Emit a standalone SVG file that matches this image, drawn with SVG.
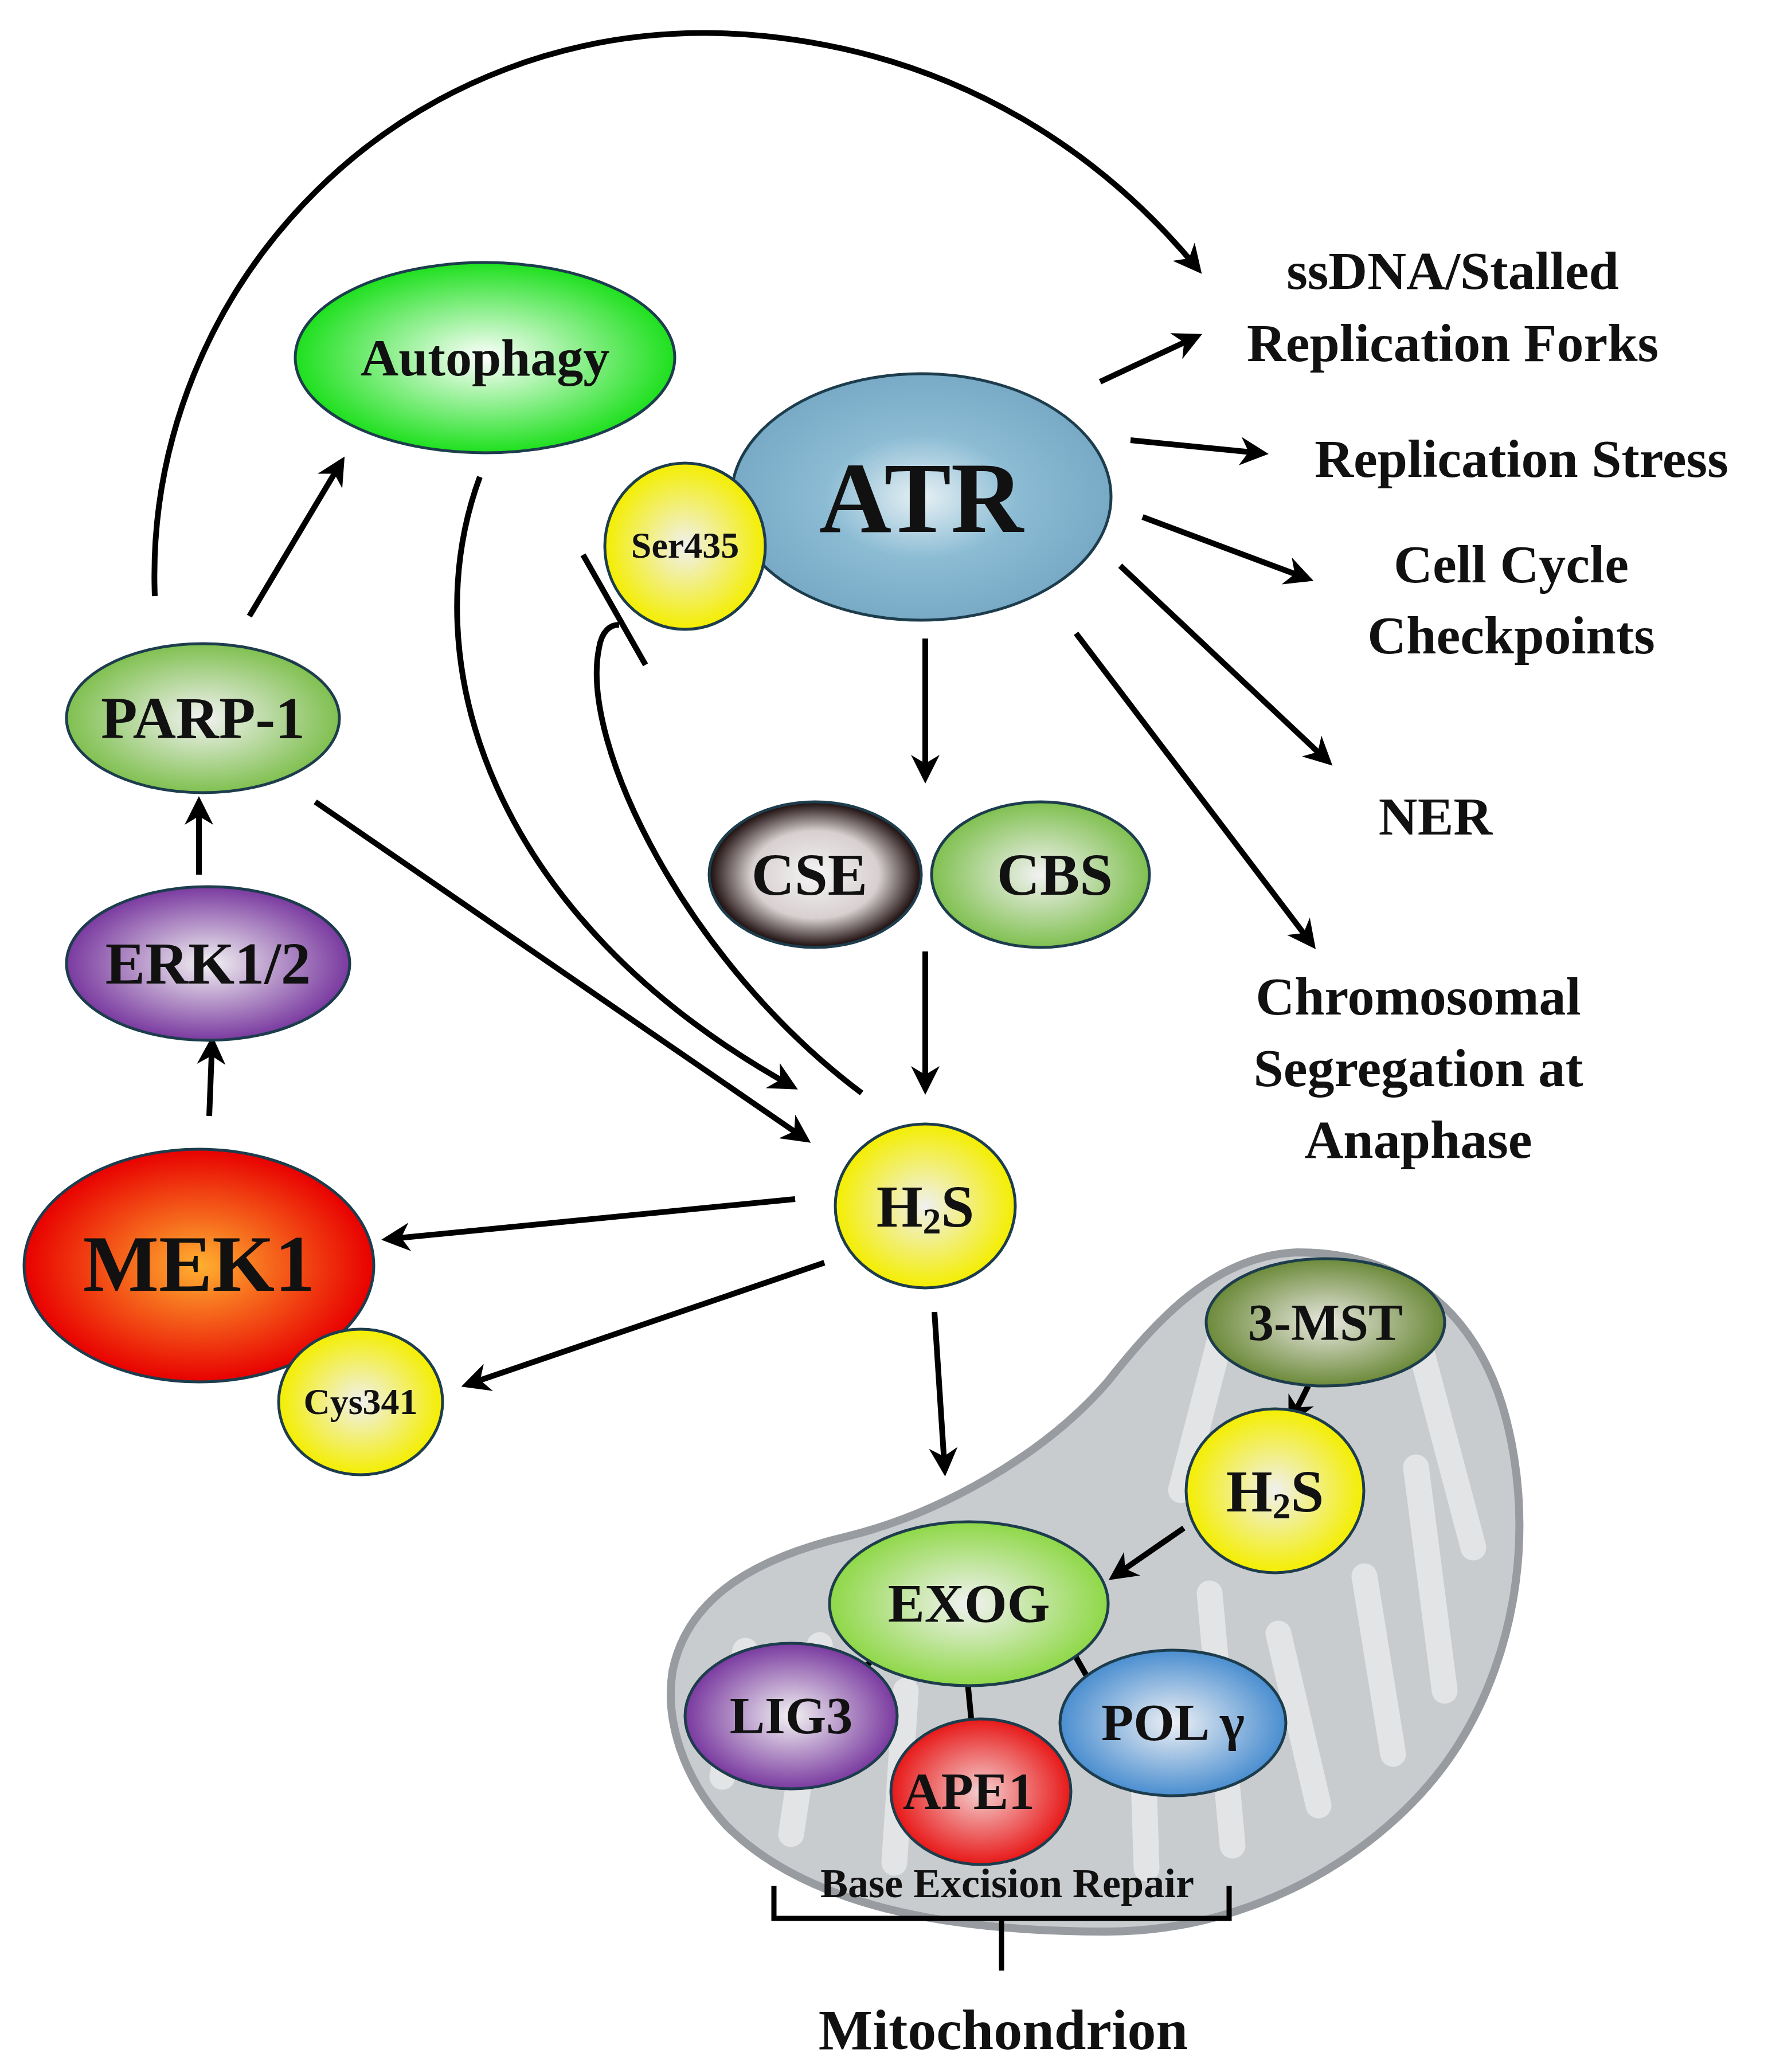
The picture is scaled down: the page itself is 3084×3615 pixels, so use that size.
<svg xmlns="http://www.w3.org/2000/svg" width="3084" height="3615" viewBox="0 0 3084 3615">
<style>
.t{font-family:"Liberation Serif","Tinos","Times New Roman","DejaVu Serif",serif;font-weight:bold;fill:#111;text-anchor:middle}
.n{stroke:#1d3d4d;stroke-width:5}
.c{fill:none;stroke:#000;stroke-width:10}
.a{marker-end:url(#ar)}
</style>
<defs>
<marker id="ar" viewBox="0 0 10 10" refX="8" refY="5" markerWidth="5" markerHeight="5" orient="auto" markerUnits="strokeWidth"><path d="M0,0 L10,5 L0,10 L3,5 z" fill="#000"/></marker>
<radialGradient id="gAut"><stop offset="0" stop-color="#fff"/><stop offset="1" stop-color="#1ee01e"/></radialGradient>
<radialGradient id="gAtr"><stop offset="0" stop-color="#e6f0f4"/><stop offset="0.5" stop-color="#8cbcd4"/><stop offset="1" stop-color="#78aac6"/></radialGradient>
<radialGradient id="gY"><stop offset="0" stop-color="#f0f0f0"/><stop offset="1" stop-color="#f4ee00"/></radialGradient>
<radialGradient id="gG"><stop offset="0" stop-color="#f2f2f2"/><stop offset="1" stop-color="#80c050"/></radialGradient>
<radialGradient id="gE"><stop offset="0" stop-color="#f2f2f2"/><stop offset="1" stop-color="#8fd848"/></radialGradient>
<radialGradient id="gP"><stop offset="0" stop-color="#f2f2f2"/><stop offset="1" stop-color="#7a3aa0"/></radialGradient>
<radialGradient id="gM"><stop offset="0" stop-color="#ffb030"/><stop offset="1" stop-color="#e80000"/></radialGradient>
<radialGradient id="gK"><stop offset="0" stop-color="#f4f4f4"/><stop offset="0.6" stop-color="#d8d0d0"/><stop offset="1" stop-color="#1a0a0a"/></radialGradient>
<radialGradient id="gR"><stop offset="0" stop-color="#f4d0d0"/><stop offset="1" stop-color="#e81818"/></radialGradient>
<radialGradient id="gB"><stop offset="0" stop-color="#eef0f4"/><stop offset="1" stop-color="#4a8ed0"/></radialGradient>
<radialGradient id="gO"><stop offset="0" stop-color="#e8e8e0"/><stop offset="1" stop-color="#6c8a3a"/></radialGradient>
</defs>
<rect width="3084" height="3615" fill="#fff"/>
<g id="mitochondrion">
<path d="M1173,2916 C1200,2780 1330,2715 1480,2680 C1640,2640 1820,2540 1931,2412 C2020,2300 2120,2190 2263,2185 C2420,2185 2560,2260 2620,2450 C2680,2650 2650,2880 2540,3050 C2430,3220 2200,3370 1931,3370 C1700,3370 1420,3340 1266,3184 C1190,3100 1160,3000 1173,2916 Z" fill="#c9ccce" stroke="#989ca0" stroke-width="14"/>
<g fill="none" stroke="#e2e4e6" stroke-width="45" stroke-linecap="round">
<path d="M1260,3100 L1300,2880"/><path d="M1380,3200 L1430,2870"/><path d="M1560,3250 L1580,2950"/>
<path d="M2000,3260 L1990,2950"/><path d="M2150,3220 L2110,2780"/><path d="M2300,3150 L2230,2850"/>
<path d="M2430,3060 L2380,2750"/><path d="M2520,2950 L2470,2560"/><path d="M2570,2700 L2480,2360"/><path d="M2060,2600 L2130,2330"/>
</g>
</g>
<g id="connectors">
<path class="c a" d="M270,1040 C250,500 700,20 1300,60 C1700,90 1950,300 2090,470"/>
<path class="c a" d="M1919,666 L2088,587"/>
<path class="c a" d="M1972,768 L2203,791"/>
<path class="c a" d="M1993,902 L2282,1010"/>
<path class="c a" d="M1954,987 L2317,1329"/>
<path class="c a" d="M1877,1105 L2289,1648"/>
<path class="c a" d="M1614,1114 L1614,1357"/>
<path class="c a" d="M1614,1660 L1614,1900"/>
<path class="c a" d="M435,1075 L596,805"/>
<path class="c a" d="M347,1526 L347,1399"/>
<path class="c a" d="M365,1947 L370,1817"/>
<path class="c a" d="M550,1399 L1406,1988"/>
<path class="c a" d="M837,832 C720,1150 850,1600 1383,1896"/>
<path class="c" d="M1503,1907 C1200,1680 1010,1300 1045,1130 C1050,1100 1065,1090 1080,1090"/>
<path class="c" d="M1017,968 L1126,1160"/>
<path class="c a" d="M1387,2092 L675,2162"/>
<path class="c a" d="M1438,2203 L814,2416"/>
<path class="c a" d="M1630,2289 L1648,2566"/>
<path class="c a" d="M2282,2418 L2252,2478"/>
<path class="c a" d="M2065,2666 L1942,2751"/>
<path class="c" d="M1542,2878 L1498,2918"/>
<path class="c" d="M1688,2936 L1697,3029"/>
<path class="c" d="M1863,2867 L1896,2925"/>
<path d="M1350,3290 L1350,3347 L2144,3347 L2144,3290 M1747,3347 L1747,3438" fill="none" stroke="#000" stroke-width="9"/>
</g>
<g id="autophagy"><ellipse class="n" cx="846" cy="624" rx="331" ry="166" fill="url(#gAut)"/><text class="t" x="846" y="655" font-size="92">Autophagy</text></g>
<g id="atr"><ellipse class="n" cx="1607" cy="867" rx="331" ry="215" fill="url(#gAtr)"/><text class="t" x="1607" y="928" font-size="175">ATR</text></g>
<g id="ser435"><ellipse class="n" cx="1195" cy="953" rx="140" ry="145" fill="url(#gY)"/><text class="t" x="1195" y="973" font-size="64">Ser435</text></g>
<g id="parp1"><ellipse class="n" cx="354" cy="1253" rx="238" ry="130" fill="url(#gG)"/><text class="t" x="354" y="1288" font-size="104">PARP-1</text></g>
<g id="erk"><ellipse class="n" cx="363" cy="1681" rx="247" ry="134" fill="url(#gP)"/><text class="t" x="363" y="1716" font-size="104">ERK1/2</text></g>
<g id="mek1"><ellipse class="n" cx="347" cy="2208" rx="305" ry="203" fill="url(#gM)"/><text class="t" x="347" y="2252" font-size="140">MEK1</text></g>
<g id="cys341"><ellipse class="n" cx="629" cy="2446" rx="143" ry="127" fill="url(#gY)"/><text class="t" x="629" y="2467" font-size="64">Cys341</text></g>
<g id="cse"><ellipse class="n" cx="1422" cy="1526" rx="185" ry="127" fill="url(#gK)"/><text class="t" x="1412" y="1561" font-size="104">CSE</text></g>
<g id="cbs"><ellipse class="n" cx="1815" cy="1526" rx="190" ry="127" fill="url(#gG)"/><text class="t" x="1840" y="1561" font-size="104">CBS</text></g>
<g id="h2s"><ellipse class="n" cx="1614" cy="2104" rx="157" ry="143" fill="url(#gY)"/><text class="t" x="1614" y="2140" font-size="104">H<tspan font-size="64" dy="12">2</tspan><tspan dy="-12">S</tspan></text></g>
<g id="mst3"><ellipse class="n" cx="2312" cy="2307" rx="208" ry="111" fill="url(#gO)"/><text class="t" x="2312" y="2338" font-size="90">3-MST</text></g>
<g id="h2s-mito"><ellipse class="n" cx="2224" cy="2601" rx="155" ry="143" fill="url(#gY)"/><text class="t" x="2224" y="2637" font-size="104">H<tspan font-size="64" dy="12">2</tspan><tspan dy="-12">S</tspan></text></g>
<g id="exog"><ellipse class="n" cx="1690" cy="2798" rx="243" ry="143" fill="url(#gE)"/><text class="t" x="1690" y="2830" font-size="96">EXOG</text></g>
<g id="lig3"><ellipse class="n" cx="1380" cy="2994" rx="185" ry="127" fill="url(#gP)"/><text class="t" x="1380" y="3024" font-size="92">LIG3</text></g>
<g id="ape1"><ellipse class="n" cx="1711" cy="3126" rx="157" ry="127" fill="url(#gR)"/><text class="t" x="1690" y="3156" font-size="92">APE1</text></g>
<g id="polg"><ellipse class="n" cx="2046" cy="3006" rx="197" ry="127" fill="url(#gB)"/><text class="t" x="2046" y="3036" font-size="92">POL γ</text></g>
<g id="labels">
<text class="t" x="2534" y="504" font-size="94">ssDNA/Stalled</text>
<text class="t" x="2534" y="630" font-size="94">Replication Forks</text>
<text class="t" x="2654" y="832" font-size="94">Replication Stress</text>
<text class="t" x="2636" y="1016" font-size="94">Cell Cycle</text>
<text class="t" x="2636" y="1140" font-size="94">Checkpoints</text>
<text class="t" x="2504" y="1456" font-size="94">NER</text>
<text class="t" x="2474" y="1770" font-size="94">Chromosomal</text>
<text class="t" x="2474" y="1895" font-size="94">Segregation at</text>
<text class="t" x="2474" y="2020" font-size="94">Anaphase</text>
<text class="t" x="1757" y="3310" font-size="72">Base Excision Repair</text>
<text class="t" x="1750" y="3575" font-size="100">Mitochondrion</text>
</g>
</svg>
